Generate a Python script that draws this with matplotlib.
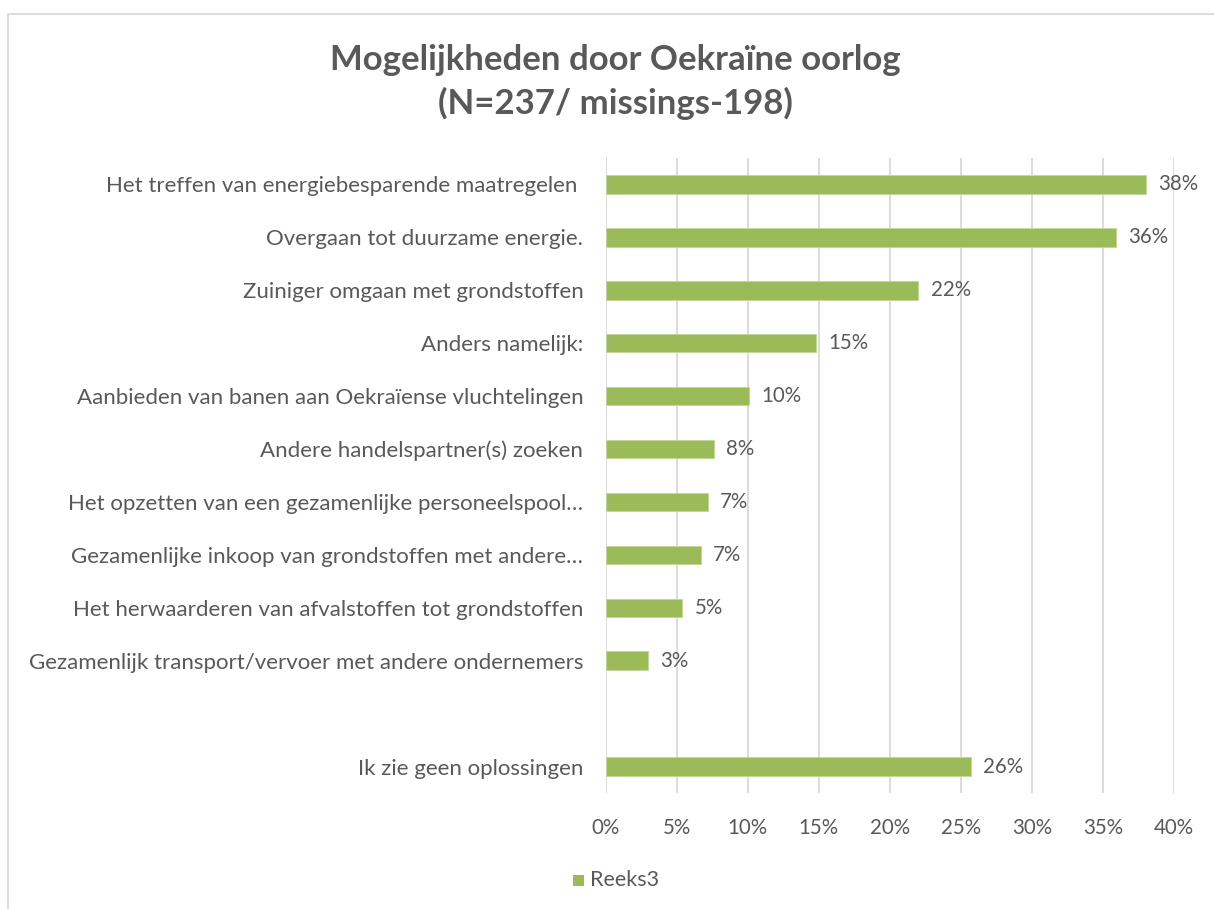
import matplotlib
matplotlib.use("Agg")
import matplotlib.pyplot as plt
from matplotlib.patches import Rectangle

# ---- data ----
categories = [
    "Het treffen van energiebesparende maatregelen ",
    "Overgaan tot duurzame energie.",
    "Zuiniger omgaan met grondstoffen",
    "Anders namelijk:",
    "Aanbieden van banen aan Oekraïense vluchtelingen",
    "Andere handelspartner(s) zoeken",
    "Het opzetten van een gezamenlijke personeelspool…",
    "Gezamenlijke inkoop van grondstoffen met andere…",
    "Het herwaarderen van afvalstoffen tot grondstoffen",
    "Gezamenlijk transport/vervoer met andere ondernemers",
    "",
    "Ik zie geen oplossingen",
]
values = [0.380, 0.359, 0.220, 0.148, 0.101, 0.076, 0.072, 0.067, 0.054, 0.030, None, 0.257]
value_labels = ["38%", "36%", "22%", "15%", "10%", "8%", "7%", "7%", "5%", "3%", "", "26%"]
xticks = [0, 0.05, 0.10, 0.15, 0.20, 0.25, 0.30, 0.35, 0.40]
xtick_labels = ["0%", "5%", "10%", "15%", "20%", "25%", "30%", "35%", "40%"]
title_lines = ["Mogelijkheden door Oekraïne oorlog", "(N=237/ missings-198)"]
series_name = "Reeks3"

BAR = "#9BBB59"
TXT = "#595959"
GRID = "#D9D9D9"
FONT = "Lato"
CAT_FS = 16
NUM_FS = 14.8

W, H = 1214, 909
fig = plt.figure(figsize=(W / 100, H / 100), dpi=100)
fig.patch.set_facecolor("white")

# outer chart border (extends past right/bottom edge)
fig.add_artist(Rectangle((8 / W, -0.1), 1.2, 1 - 14 / H + 0.1, transform=fig.transFigure,
                         fill=False, edgecolor=GRID, linewidth=1.3))

left, right = 605.5 / W, 1174 / W
top, bottom = 1 - 158 / H, 1 - 793 / H
ax = fig.add_axes([left, bottom, right - left, top - bottom])

n = len(categories)
ypos = list(range(n))
bar_vals = [v if v is not None else 0 for v in values]
bars = ax.barh(ypos, bar_vals, height=0.35, color=BAR, edgecolor="#C3D69B", linewidth=0.6)
for i, v in enumerate(values):
    if v is None:
        bars[i].set_visible(False)

ax.set_ylim(n - 0.5, -0.5)
ax.set_xlim(0, 0.40)
ax.set_xticks(xticks)
ax.set_xticklabels(xtick_labels)
ax.set_yticks(ypos)
ax.set_yticklabels(categories)
ax.tick_params(axis="both", length=0, colors=TXT)
ax.tick_params(axis="y", pad=16, labelsize=CAT_FS)
ax.tick_params(axis="x", pad=18, labelsize=NUM_FS)
for lab in ax.get_xticklabels() + ax.get_yticklabels():
    lab.set_fontfamily(FONT)
    lab.set_color(TXT)
ax.grid(axis="x", color=GRID, linewidth=1.3)
ax.set_axisbelow(True)
for s in ax.spines.values():
    s.set_visible(False)

for i, (v, lab) in enumerate(zip(values, value_labels)):
    if v is None:
        continue
    ax.annotate(lab, (v, i), xytext=(9, 0), textcoords="offset points",
                va="center", ha="left", fontsize=NUM_FS, color=TXT, fontfamily=FONT)

for line, yc in zip(title_lines, [60, 103]):
    fig.text(615 / W, 1 - yc / H, line, ha="center", va="center", fontsize=25,
             fontweight="bold", color=TXT, fontfamily=FONT)

# legend
fig.add_artist(Rectangle((573 / W, 1 - 886 / H), 11 / W, 11 / H, transform=fig.transFigure,
                         facecolor=BAR, edgecolor="none"))
fig.text(590 / W, 1 - 880 / H, series_name, ha="left", va="center", fontsize=15.5,
         color=TXT, fontfamily=FONT)

fig.savefig("out.png", dpi=100, facecolor="white")
